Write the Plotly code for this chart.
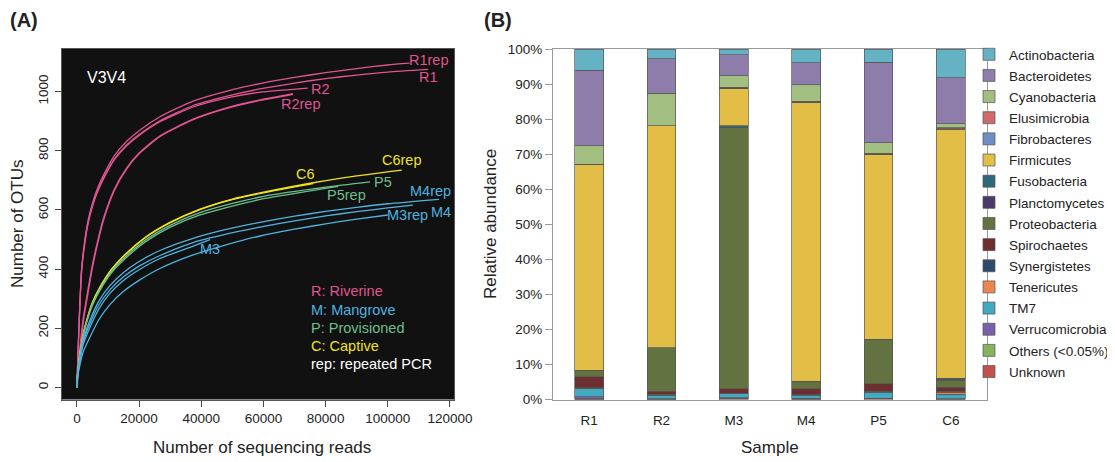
import plotly.graph_objects as go

# ---------------- Panel A: rarefaction curves ----------------
reads_R1rep = [0, 300, 740, 1500, 2500, 3640, 5000, 6500, 8460, 12000, 16000, 20000, 26700, 37400, 48000,
               58900, 70000, 80000, 90000, 100000, 107000]
otus_R1rep = [0, 100, 230, 400, 495, 567, 623, 670, 716, 783, 832, 868, 915, 968, 1001,
              1027, 1048, 1064, 1078, 1090, 1096]
reads_R1 = [0, 300, 740, 1500, 2500, 3640, 5000, 6500, 8460, 12000, 16000, 20000, 26700, 37400, 48000,
            58900, 70000, 80000, 90000, 100000, 113000]
otus_R1 = [0, 98, 226, 394, 488, 560, 615, 661, 706, 772, 820, 855, 901, 953, 984,
           1009, 1029, 1044, 1056, 1066, 1075]
reads_R2 = [0, 300, 740, 1500, 2500, 3640, 5000, 6500, 8460, 12000, 16000, 20000, 26700, 37400, 48000,
            58900, 74300]
otus_R2 = [0, 97, 224, 391, 485, 557, 612, 658, 703, 769, 817, 852, 898, 948, 978,
           998, 1012]
reads_R2rep = [0, 500, 1000, 2030, 3000, 4730, 6000, 8460, 12000, 16000, 20000, 26700, 37400, 48200,
               58900, 69500]
otus_R2rep = [0, 75, 130, 227, 290, 396, 460, 565, 667, 740, 791, 849, 906, 944, 971, 992]

reads_C6rep = [0, 300, 965, 2000, 3120, 5000, 7400, 11000, 16000, 22000, 29900, 39600, 50000, 60000,
               76000, 90000, 104500]
otus_C6rep = [0, 60, 114, 180, 227, 288, 339, 398, 455, 508, 558, 603, 637, 660, 692, 715, 735]
reads_C6 = [0, 300, 965, 2000, 3120, 5000, 7400, 11000, 16000, 22000, 29900, 39600, 50000, 60000, 76000]
otus_C6 = [0, 59, 112, 178, 225, 286, 337, 396, 453, 506, 556, 601, 635, 658, 689]
reads_P5 = [0, 300, 965, 2000, 3120, 5000, 7400, 11000, 16000, 22000, 29900, 39600, 50000, 60000,
            80000, 94300]
otus_P5 = [0, 58, 110, 176, 222, 282, 332, 391, 446, 498, 548, 591, 622, 646, 677, 695]
reads_P5rep = [0, 300, 965, 2000, 3120, 5000, 7400, 11000, 16000, 22000, 29900, 39600, 50000, 60000, 84000]
otus_P5rep = [0, 57, 108, 173, 219, 278, 328, 386, 440, 492, 541, 583, 613, 638, 680]

reads_M4 = [0, 300, 1000, 2000, 4180, 7000, 10600, 15000, 20000, 26700, 37400, 48000, 58900, 70000,
            80000, 90000, 100000, 116500]
otus_M4 = [0, 50, 100, 160, 227, 291, 344, 389, 426, 463, 504, 534, 558, 579, 595, 609, 621, 636]
reads_M4rep = [0, 300, 1000, 2000, 4180, 7000, 10600, 15000, 20000, 26700, 37400, 48000, 58900, 70000,
               80000, 90000, 100000, 108100]
otus_M4rep = [0, 48, 95, 152, 216, 278, 330, 374, 410, 446, 490, 518, 542, 563, 580, 594, 607, 616]
reads_M3 = [0, 300, 1000, 2000, 4180, 7000, 10600, 15000, 20000, 26700, 37400, 42800]
otus_M3 = [0, 46, 92, 145, 203, 264, 318, 362, 398, 436, 478, 500]
reads_M3rep = [0, 300, 1000, 2000, 4180, 7000, 10600, 15000, 20000, 26700, 37400, 48000, 58900, 70000,
               80000, 90000, 100000]
otus_M3rep = [0, 38, 78, 120, 170, 228, 280, 325, 362, 402, 448, 482, 512, 535, 553, 569, 583]

curve_names = ["R1rep", "R1", "R2", "R2rep", "C6rep", "C6", "P5", "P5rep", "M4", "M4rep", "M3", "M3rep"]
curve_reads = [reads_R1rep, reads_R1, reads_R2, reads_R2rep, reads_C6rep, reads_C6, reads_P5, reads_P5rep,
               reads_M4, reads_M4rep, reads_M3, reads_M3rep]
curve_otus = [otus_R1rep, otus_R1, otus_R2, otus_R2rep, otus_C6rep, otus_C6, otus_P5, otus_P5rep,
              otus_M4, otus_M4rep, otus_M3, otus_M3rep]
curve_group = ["R", "R", "R", "R", "C", "C", "P", "P", "M", "M", "M", "M"]

# label anchor positions (data units of panel A)
label_x = [113200, 113200, 78400, 72100, 104700, 73600, 98300, 86800, 117000, 113800, 42800, 106400]
label_y = [1107, 1048, 1008, 957, 768, 721, 695, 652, 592, 664, 468, 584]
label_text = ["R1rep", "R1", "R2", "R2rep", "C6rep", "C6", "P5", "P5rep", "M4", "M4rep", "M3", "M3rep"]

group_colors = {"R": "#DF5590", "M": "#4FB3E0", "P": "#6CBF8C", "C": "#EFE31C"}
legend_lines = ["R: Riverine", "M: Mangrove", "P: Provisioned", "C: Captive", "rep: repeated PCR"]
legend_groups = ["R", "M", "P", "C", None]
legend_y = [325, 263, 202, 140, 80]

x_ticks_a = [0, 20000, 40000, 60000, 80000, 100000, 120000]
y_ticks_a = [0, 200, 400, 600, 800, 1000]

# ---------------- Panel B: relative abundance ----------------
samples = ["R1", "R2", "M3", "M4", "P5", "C6"]
phyla = ["Actinobacteria", "Bacteroidetes", "Cyanobacteria", "Elusimicrobia", "Fibrobacteres", "Firmicutes",
         "Fusobacteria", "Planctomycetes", "Proteobacteria", "Spirochaetes", "Synergistetes", "Tenericutes",
         "TM7", "Verrucomicrobia", "Others (<0.05%)", "Unknown"]
phylum_colors = ["#65B2C4", "#8E7DAB", "#A3BE81", "#CF6A6A", "#6E8FC2", "#E2BE47",
                 "#2F6878", "#4B3B66", "#627341", "#6C2E2E", "#2F4A6C", "#EC8650",
                 "#41A9C1", "#7A60AA", "#86B35E", "#C2504D"]
abund = {
    "Actinobacteria":  [6.1, 2.8, 1.7, 3.9, 3.8, 8.2],
    "Bacteroidetes":   [21.5, 9.8, 6.0, 6.3, 22.9, 13.1],
    "Cyanobacteria":   [5.3, 9.3, 3.2, 4.7, 3.0, 1.2],
    "Elusimicrobia":   [0.1, 0.0, 0.3, 0.3, 0.3, 0.3],
    "Fibrobacteres":   [0.0, 0.0, 0.1, 0.0, 0.0, 0.1],
    "Firmicutes":      [58.6, 63.3, 10.6, 79.6, 52.8, 71.1],
    "Fusobacteria":    [0.0, 0.0, 0.4, 0.0, 0.0, 0.4],
    "Planctomycetes":  [0.0, 0.0, 0.2, 0.0, 0.0, 0.1],
    "Proteobacteria":  [1.9, 12.5, 74.4, 2.1, 12.7, 2.0],
    "Spirochaetes":    [3.2, 0.8, 1.3, 1.6, 2.2, 1.2],
    "Synergistetes":   [0.1, 0.0, 0.1, 0.3, 0.1, 0.3],
    "Tenericutes":     [0.1, 0.3, 0.1, 0.1, 0.2, 0.5],
    "TM7":             [2.3, 1.0, 1.1, 0.8, 1.6, 1.3],
    "Verrucomicrobia": [0.6, 0.1, 0.2, 0.1, 0.1, 0.0],
    "Others (<0.05%)": [0.1, 0.1, 0.1, 0.1, 0.1, 0.1],
    "Unknown":         [0.1, 0.0, 0.2, 0.1, 0.2, 0.1],
}
y_ticks_b = [0, 10, 20, 30, 40, 50, 60, 70, 80, 90, 100]

FONT = "Liberation Sans, Arial, sans-serif"
OFF = 8                      # the page body adds an 8px margin around the figure
W, H = 1115 - OFF, 462 - OFF


def px(x):  # window pixel -> paper x
    return (x - OFF) / W


def py(y):  # window pixel -> paper y
    return 1 - (y - OFF) / H


fig = go.Figure()

# Panel A curves
for name, xs, ys, g in zip(curve_names, curve_reads, curve_otus, curve_group):
    fig.add_trace(go.Scatter(
        x=xs, y=ys, mode="lines", name=name, showlegend=False, hoverinfo="skip",
        line=dict(color=group_colors[g], width=1.9 if name == "R2rep" else 1.3, shape="spline", smoothing=0.6),
        xaxis="x", yaxis="y"))

# Panel B bars (bottom of stack first); legend order given by legendrank
for ph, col in reversed(list(zip(phyla, phylum_colors))):
    fig.add_trace(go.Bar(
        x=samples, y=abund[ph], name=ph, legendgroup=ph, legendrank=phyla.index(ph) + 1,
        marker=dict(color=col, line=dict(color="#555555", width=0.7)),
        xaxis="x2", yaxis="y2"))

xa_dom = [px(62), px(454)]
xb_dom = [px(553), px(987)]
y_dom = [py(399.5), py(49)]

annotations = []
for t, x, y, g in zip(label_text, label_x, label_y, curve_group):
    annotations.append(dict(text=t, x=x, y=y, xref="x", yref="y", showarrow=False,
                            xanchor="center", yanchor="middle",
                            font=dict(family=FONT, size=14.5, color=group_colors[g])))
annotations.append(dict(text="V3V4", x=2600, y=1049, xref="x", yref="y", showarrow=False,
                        xanchor="left", yanchor="middle", font=dict(family=FONT, size=16, color="white")))
for t, g, y in zip(legend_lines, legend_groups, legend_y):
    annotations.append(dict(text=t, x=74500, y=y, xref="x", yref="y", showarrow=False,
                            xanchor="left", yanchor="middle",
                            font=dict(family=FONT, size=14.5, color=group_colors[g] if g else "white")))
common = dict(xref="paper", yref="paper", showarrow=False, xanchor="center", yanchor="middle")
annotations += [
    dict(text="<b>(A)</b>", x=px(24), y=py(20), font=dict(family=FONT, size=20, color="#222"), **common),
    dict(text="<b>(B)</b>", x=px(498), y=py(20), font=dict(family=FONT, size=20, color="#222"), **common),
    dict(text="Number of sequencing reads", x=px(262), y=py(447),
         font=dict(family=FONT, size=17, color="#222"), **common),
    dict(text="Number of OTUs", x=px(18), y=py(224), textangle=-90,
         font=dict(family=FONT, size=17, color="#222"), **common),
    dict(text="Sample", x=px(770), y=py(447), font=dict(family=FONT, size=17, color="#222"), **common),
    dict(text="Relative abundance", x=px(491), y=py(224), textangle=-90,
         font=dict(family=FONT, size=17, color="#222"), **common),
]

tickfont = dict(family=FONT, size=13.5, color="#222")
fig.update_layout(
    width=W, height=H, margin=dict(l=0, r=0, t=0, b=0, autoexpand=False),
    paper_bgcolor="white", plot_bgcolor="white",
    barmode="stack", bargap=0.6,
    font=dict(family=FONT, color="#222"),
    shapes=[dict(type="rect", xref="x domain", yref="y domain", x0=0, x1=1, y0=0, y1=1,
                 fillcolor="#111111", line=dict(width=0), layer="below")],
    annotations=annotations,
    xaxis=dict(domain=xa_dom, anchor="y", range=[-4800, 121300], tickvals=x_ticks_a,
               ticktext=[str(v) for v in x_ticks_a], ticks="outside", ticklen=6, tickcolor="#444",
               showline=True, mirror=True, linecolor="#555", linewidth=1, showgrid=False, zeroline=False,
               tickfont=tickfont),
    yaxis=dict(domain=y_dom, anchor="x", range=[-40.6, 1144], tickvals=y_ticks_a,
               ticktext=[str(v) for v in y_ticks_a], tickangle=-90, ticks="outside", ticklen=6,
               tickcolor="#444", showline=True, mirror=True, linecolor="#555", linewidth=1,
               showgrid=False, zeroline=False, tickfont=tickfont, ticklabelstandoff=2),
    xaxis2=dict(domain=xb_dom, anchor="y2", type="category", ticks="outside", ticklen=8,
                tickcolor="rgba(0,0,0,0)", showline=True, mirror=True, linecolor="#9a9a9a", linewidth=1.2,
                showgrid=False, zeroline=False, tickfont=tickfont),
    yaxis2=dict(domain=y_dom, anchor="x2", range=[0, 100], tickvals=y_ticks_b,
                ticktext=[f"{v}%" for v in y_ticks_b], ticks="outside", ticklen=7, tickcolor="#9a9a9a",
                showline=True, mirror=True, linecolor="#9a9a9a", linewidth=1, showgrid=False,
                zeroline=False, tickfont=tickfont),
    legend=dict(x=px(969), y=py(39), xanchor="left", yanchor="top", traceorder="grouped",
                tracegroupgap=0.6, font=dict(family=FONT, size=13.5, color="#222"),
                bgcolor="rgba(0,0,0,0)", itemclick=False),
)

fig.write_html("out.html")
